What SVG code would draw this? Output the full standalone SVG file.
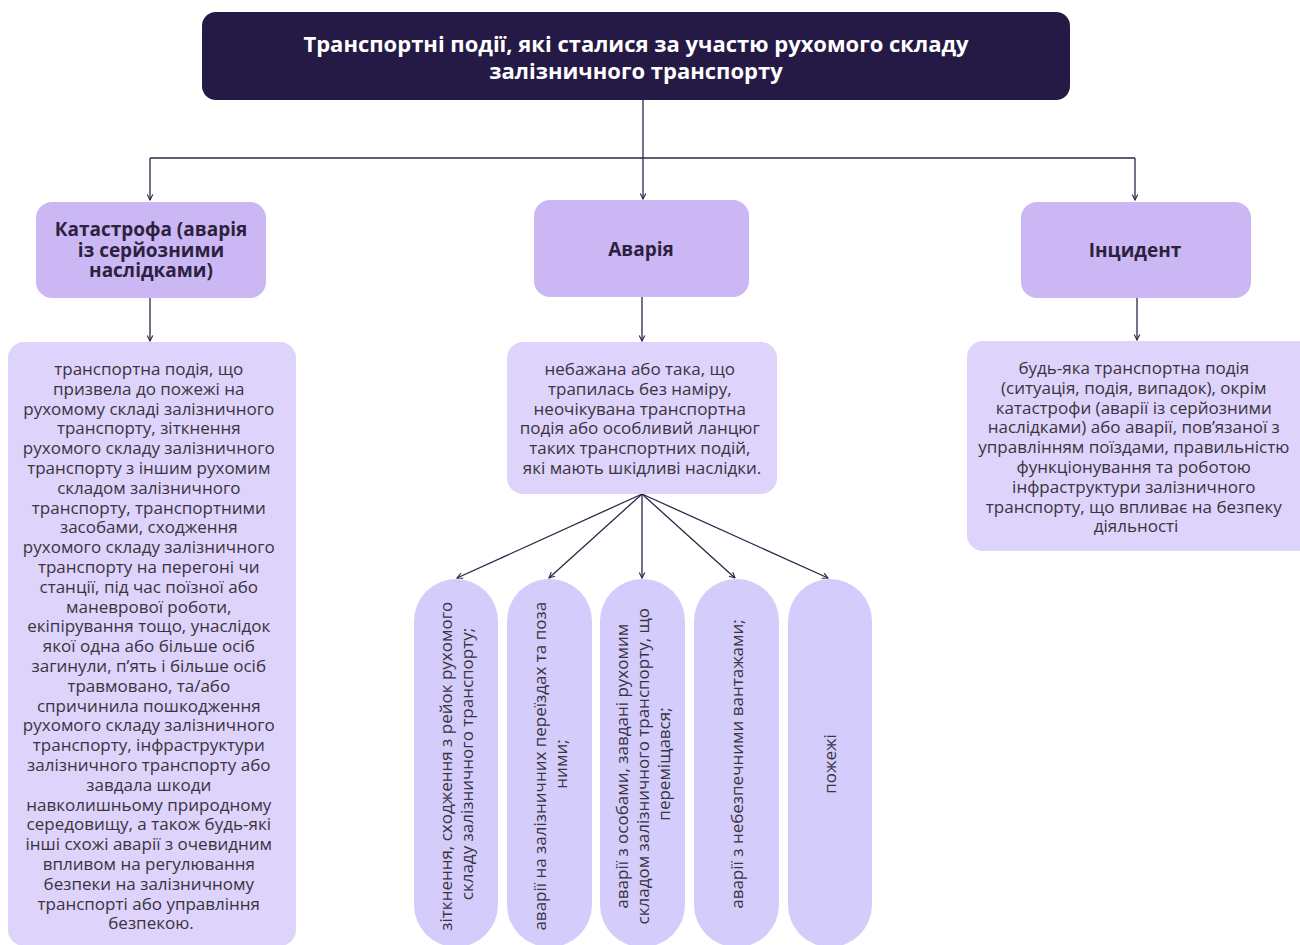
<svg xmlns="http://www.w3.org/2000/svg" width="1300" height="945" viewBox="0 0 1300 945">
  <defs>
    <marker id="arrow" viewBox="0 0 10 10" refX="9" refY="5" markerWidth="7" markerHeight="7" orient="auto-start-reverse" markerUnits="userSpaceOnUse">
      <path d="M1,1 L9,5 L1,9" fill="none" stroke="#2d2545" stroke-width="1.6"/>
    </marker>
    <style>
      .title-box { fill: #251a45; }
      .head-box { fill: #cbb7f3; }
      .def-box { fill: #ddd3fb; }
      .pill { fill: #d4cdfb; }
      .title { font-family: "Open Sans", "Noto Sans", sans-serif; font-weight: 700; font-size: 22px; fill: #ffffff; text-anchor: middle; }
      .head { font-family: "Open Sans", "Noto Sans", sans-serif; font-weight: 700; font-size: 19px; fill: #2b2240; text-anchor: middle; }
      .body { font-family: "Open Sans", "Noto Sans", sans-serif; font-size: 17px; fill: #3a3340; text-anchor: middle; }
      .conn { fill: none; stroke: #2d2545; stroke-width: 1.3; }
    </style>
  </defs>

  <rect width="1300" height="945" fill="#ffffff"/>

  <!-- connectors -->
  <g id="connectors">
    <path class="conn" d="M643,100 V158"/>
    <path class="conn" d="M150,158 H1135"/>
    <path class="conn" d="M150,158 V200" marker-end="url(#arrow)"/>
    <path class="conn" d="M643,158 V199" marker-end="url(#arrow)"/>
    <path class="conn" d="M1135,158 V200" marker-end="url(#arrow)"/>
    <path class="conn" d="M150,298 V341" marker-end="url(#arrow)"/>
    <path class="conn" d="M642,297 V341" marker-end="url(#arrow)"/>
    <path class="conn" d="M1137,298 V340" marker-end="url(#arrow)"/>
    <path class="conn" d="M642,494 L457,578" marker-end="url(#arrow)"/>
    <path class="conn" d="M642,494 L549,578" marker-end="url(#arrow)"/>
    <path class="conn" d="M642,494 L642,578" marker-end="url(#arrow)"/>
    <path class="conn" d="M642,494 L735,578" marker-end="url(#arrow)"/>
    <path class="conn" d="M642,494 L828,578" marker-end="url(#arrow)"/>
  </g>

  <!-- root -->
  <g id="root">
    <rect class="title-box" x="202" y="12" width="868" height="88" rx="14"/>
    <text class="title" x="636" y="52">Транспортні події, які сталися за участю рухомого складу</text>
    <text class="title" x="636" y="79">залізничного транспорту</text>
  </g>

  <!-- category headers -->
  <g id="catastrophe">
    <rect class="head-box" x="36" y="202" width="230" height="96" rx="16"/>
    <text class="head" x="151" y="236">Катастрофа (аварія</text>
    <text class="head" x="151" y="256.5">із серйозними</text>
    <text class="head" x="151" y="277">наслідками)</text>
  </g>
  <g id="accident">
    <rect class="head-box" x="534" y="200" width="215" height="97" rx="16"/>
    <text class="head" x="641" y="256">Аварія</text>
  </g>
  <g id="incident">
    <rect class="head-box" x="1021" y="202" width="230" height="96" rx="16"/>
    <text class="head" x="1135" y="257">Інцидент</text>
  </g>

  <!-- definitions -->
  <g id="catastrophe-def">
    <rect class="def-box" x="8" y="342" width="288" height="604" rx="16"/>
    <text class="body" x="151" y="375">
      <tspan x="151">транспортна подія, що</tspan>
      <tspan x="151" dy="19.8">призвела до пожежі на</tspan>
      <tspan x="151" dy="19.8">рухомому складі залізничного</tspan>
      <tspan x="151" dy="19.8">транспорту, зіткнення</tspan>
      <tspan x="151" dy="19.8">рухомого складу залізничного</tspan>
      <tspan x="151" dy="19.8">транспорту з іншим рухомим</tspan>
      <tspan x="151" dy="19.8">складом залізничного</tspan>
      <tspan x="151" dy="19.8">транспорту, транспортними</tspan>
      <tspan x="151" dy="19.8">засобами, сходження</tspan>
      <tspan x="151" dy="19.8">рухомого складу залізничного</tspan>
      <tspan x="151" dy="19.8">транспорту на перегоні чи</tspan>
      <tspan x="151" dy="19.8">станції, під час поїзної або</tspan>
      <tspan x="151" dy="19.8">маневрової роботи,</tspan>
      <tspan x="151" dy="19.8">екіпірування тощо, унаслідок</tspan>
      <tspan x="151" dy="19.8">якої одна або більше осіб</tspan>
      <tspan x="151" dy="19.8">загинули, п’ять і більше осіб</tspan>
      <tspan x="151" dy="19.8">травмовано, та/або</tspan>
      <tspan x="151" dy="19.8">спричинила пошкодження</tspan>
      <tspan x="151" dy="19.8">рухомого складу залізничного</tspan>
      <tspan x="151" dy="19.8">транспорту, інфраструктури</tspan>
      <tspan x="151" dy="19.8">залізничного транспорту або</tspan>
      <tspan x="151" dy="19.8">завдала шкоди</tspan>
      <tspan x="151" dy="19.8">навколишньому природному</tspan>
      <tspan x="151" dy="19.8">середовищу, а також будь-які</tspan>
      <tspan x="151" dy="19.8">інші схожі аварії з очевидним</tspan>
      <tspan x="151" dy="19.8">впливом на регулювання</tspan>
      <tspan x="151" dy="19.8">безпеки на залізничному</tspan>
      <tspan x="151" dy="19.8">транспорті або управління</tspan>
      <tspan x="151" dy="19.8">безпекою.</tspan>
    </text>
  </g>
  <g id="accident-def">
    <rect class="def-box" x="507" y="342" width="270" height="152" rx="16"/>
    <text class="body" x="642" y="375">
      <tspan x="642">небажана або така, що</tspan>
      <tspan x="642" dy="19.8">трапилась без наміру,</tspan>
      <tspan x="642" dy="19.8">неочікувана транспортна</tspan>
      <tspan x="642" dy="19.8">подія або особливий ланцюг</tspan>
      <tspan x="642" dy="19.8">таких транспортних подій,</tspan>
      <tspan x="642" dy="19.8">які мають шкідливі наслідки.</tspan>
    </text>
  </g>
  <g id="incident-def">
    <rect class="def-box" x="967" y="341" width="350" height="210" rx="16"/>
    <text class="body" x="1136" y="374">
      <tspan x="1136">будь-яка транспортна подія</tspan>
      <tspan x="1136" dy="19.8">(ситуація, подія, випадок), окрім</tspan>
      <tspan x="1136" dy="19.8">катастрофи (аварії із серйозними</tspan>
      <tspan x="1136" dy="19.8">наслідками) або аварії, пов’язаної з</tspan>
      <tspan x="1136" dy="19.8">управлінням поїздами, правильністю</tspan>
      <tspan x="1136" dy="19.8">функціонування та роботою</tspan>
      <tspan x="1136" dy="19.8">інфраструктури залізничного</tspan>
      <tspan x="1136" dy="19.8">транспорту, що впливає на безпеку</tspan>
      <tspan x="1136" dy="19.8">діяльності</tspan>
    </text>
  </g>

  <!-- accident kinds (vertical pills) -->
  <g id="kind-derailment">
    <rect class="pill" x="414" y="579" width="84" height="368" rx="42"/>
    <text class="body" transform="rotate(-90 456 764)" x="456" y="764">
      <tspan x="456" dy="-4">зіткнення, сходження з рейок рухомого</tspan>
      <tspan x="456" dy="21">складу залізничного транспорту;</tspan>
    </text>
  </g>
  <g id="kind-crossings">
    <rect class="pill" x="507" y="579" width="85" height="368" rx="42"/>
    <text class="body" transform="rotate(-90 550 764)" x="550" y="764">
      <tspan x="550" dy="-4">аварії на залізничних переїздах та поза</tspan>
      <tspan x="550" dy="21">ними;</tspan>
    </text>
  </g>
  <g id="kind-persons">
    <rect class="pill" x="600" y="579" width="85" height="368" rx="42"/>
    <text class="body" transform="rotate(-90 643 764)" x="643" y="764">
      <tspan x="643" dy="-15">аварії з особами, завдані рухомим</tspan>
      <tspan x="643" dy="21">складом залізничного транспорту, що</tspan>
      <tspan x="643" dy="21">переміщався;</tspan>
    </text>
  </g>
  <g id="kind-dangerous-goods">
    <rect class="pill" x="694" y="579" width="85" height="368" rx="42"/>
    <text class="body" transform="rotate(-90 737 764)" x="737" y="770">аварії з небезпечними вантажами;</text>
  </g>
  <g id="kind-fires">
    <rect class="pill" x="788" y="579" width="84" height="368" rx="42"/>
    <text class="body" transform="rotate(-90 830 764)" x="830" y="770">пожежі</text>
  </g>
</svg>
